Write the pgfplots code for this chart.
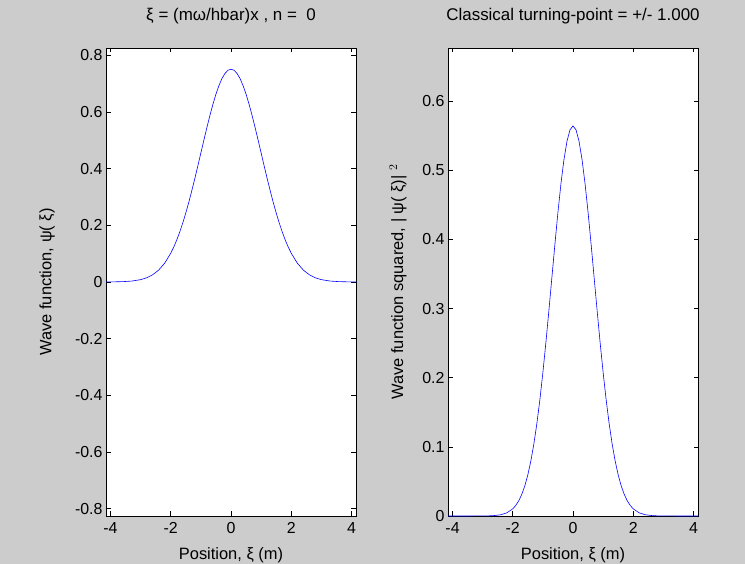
\documentclass[border=0pt]{standalone}
\usepackage{fontspec}
\setmainfont{Liberation Sans}
\usepackage{pgfplots}
\usepackage{pgfplotstable}
\pgfplotsset{compat=1.18}
\definecolor{bg}{RGB}{204,204,204}
\definecolor{mblue}{RGB}{0,0,255}

\pgfplotstableread{
x y
-4.15 0.0001
-4.0 0.0003
-3.6 0.0012
-3.3 0.0032
-3.0 0.0083
-2.8 0.0149
-2.6 0.0256
-2.4 0.0422
-2.2 0.0668
-2.0 0.1017
-1.9 0.1235
-1.8 0.1486
-1.7 0.1771
-1.6 0.2088
-1.5 0.2439
-1.4 0.2819
-1.3 0.3226
-1.2 0.3656
-1.1 0.4102
-1.0 0.4556
-0.9 0.5010
-0.8 0.5454
-0.7 0.5879
-0.6 0.6274
-0.5 0.6629
-0.4 0.6934
-0.3 0.7181
-0.2 0.7363
-0.1 0.7474
0.0 0.7511
0.1 0.7474
0.2 0.7363
0.3 0.7181
0.4 0.6934
0.5 0.6629
0.6 0.6274
0.7 0.5879
0.8 0.5454
0.9 0.5010
1.0 0.4556
1.1 0.4102
1.2 0.3656
1.3 0.3226
1.4 0.2819
1.5 0.2439
1.6 0.2088
1.7 0.1771
1.8 0.1486
1.9 0.1235
2.0 0.1017
2.2 0.0668
2.4 0.0422
2.6 0.0256
2.8 0.0149
3.0 0.0083
3.3 0.0032
3.6 0.0012
4.0 0.0003
4.15 0.0001
}\psitable

\pgfplotstableread{
x y
-4.15 0.0
-3.0 0.0001
-2.8 0.0002
-2.6 0.0007
-2.4 0.0018
-2.2 0.0045
-2.0 0.0103
-1.9 0.0153
-1.8 0.0221
-1.7 0.0314
-1.6 0.0436
-1.5 0.0595
-1.4 0.0795
-1.3 0.1041
-1.2 0.1337
-1.1 0.1682
-1.0 0.2076
-0.9 0.2510
-0.8 0.2975
-0.7 0.3456
-0.6 0.3936
-0.5 0.4394
-0.4 0.4808
-0.3 0.5156
-0.2 0.5421
-0.1 0.5586
0.0 0.5642
0.1 0.5586
0.2 0.5421
0.3 0.5156
0.4 0.4808
0.5 0.4394
0.6 0.3936
0.7 0.3456
0.8 0.2975
0.9 0.2510
1.0 0.2076
1.1 0.1682
1.2 0.1337
1.3 0.1041
1.4 0.0795
1.5 0.0595
1.6 0.0436
1.7 0.0314
1.8 0.0221
1.9 0.0153
2.0 0.0103
2.2 0.0045
2.4 0.0018
2.6 0.0007
2.8 0.0002
3.0 0.0001
4.15 0.0
}\sqtable

\pgfplotsset{
  mstyle/.style={
    scale only axis,
    width=250bp, height=468bp,
    axis background/.style={fill=white},
    axis line style={black, line width=0.8pt},
    every tick/.style={black, line width=0.6pt},
    major tick length=4.5bp,
    tick align=inside,
    xmin=-4.15, xmax=4.15,
    xtick={-4,-2,0,2,4},
    xticklabels={-4,-2,0,2,4},
    tick label style={font=\fontsize{16}{18}\selectfont},
    xticklabel style={yshift=-3bp},
    label style={font=\fontsize{16.5}{18}\selectfont},
    title style={font=\fontsize{17}{19}\selectfont},
    xlabel={Position, ξ (m)},
    xlabel style={at={(axis description cs:0.5,-0.083)}, anchor=center},
    title style={at={(axis description cs:0.5,1.0556)}, anchor=center},
    clip=false,
  },
}

\begin{document}
\begin{tikzpicture}[x=1bp,y=1bp]
\fill[bg] (0,0) rectangle (745,564);
\useasboundingbox (0,0) rectangle (745,564);

\begin{axis}[mstyle,
  at={(106bp,48bp)}, anchor=south west,
  ymin=-0.826, ymax=0.826,
  ytick={-0.8,-0.6,-0.4,-0.2,0,0.2,0.4,0.6,0.8},
  yticklabels={-0.8,-0.6,-0.4,-0.2,0,0.2,0.4,0.6,0.8},
  ylabel={Wave function, ψ( ξ)},
  ylabel style={at={(axis description cs:-0.236,0.5)}, anchor=center},
  title={ξ = (mω/hbar)x , n = \ 0},
]
\addplot[mblue, line width=0.6pt] table[x=x,y=y] {\psitable};
\end{axis}

\begin{axis}[mstyle,
  at={(448bp,48bp)}, anchor=south west,
  ymin=0, ymax=0.677,
  ytick={0,0.1,0.2,0.3,0.4,0.5,0.6},
  yticklabels={0,0.1,0.2,0.3,0.4,0.5,0.6},
  ylabel={Wave function squared, | ψ( ξ)| $^2$},
  ylabel style={at={(axis description cs:-0.2,0.5)}, anchor=center},
  title={Classical turning-point = +/- 1.000},
]
\addplot[mblue, line width=0.6pt] table[x=x,y=y] {\sqtable};
\end{axis}
\end{tikzpicture}
\end{document}
